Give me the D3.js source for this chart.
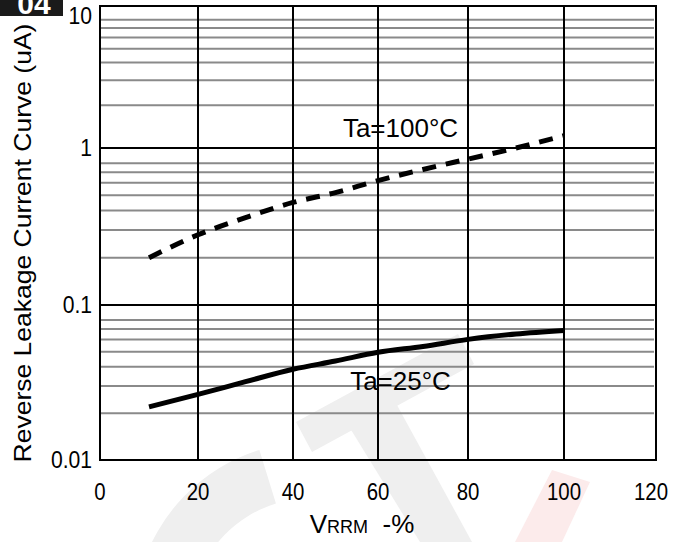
<!DOCTYPE html>
<html>
<head>
<meta charset="utf-8">
<script src="https://cdn.jsdelivr.net/npm/d3@7"></script>
<style>
body{margin:0;background:#fff}
svg{display:block}
text{font-family:"Liberation Sans",Arial,sans-serif;fill:#000}
</style>
</head>
<body>
<svg id="chart"></svg>
<script>
// chart values
var xTicks = [0, 20, 40, 60, 80, 100, 120];
var yTicks = [0.01, 0.1, 1, 10];
var yTickLabels = ["0.01", "0.1", "1", "10"];
var minorSteps = [2, 3, 4, 5, 6, 7, 8];
var vrrm = [10, 20, 30, 40, 50, 60, 70, 80, 90, 100];
var ir100 = [0.20, 0.28, 0.36, 0.45, 0.52, 0.62, 0.73, 0.85, 1.0, 1.22];
var ir25 = [0.022, 0.0265, 0.032, 0.0385, 0.0435, 0.0495, 0.054, 0.060, 0.065, 0.0685];
var curveLabels = [{text: "Ta=100°C", x: 65, y: 1.19}, {text: "Ta=25°C", x: 65, y: 0.0283}];

function init(){
    var width = 685;
    var height = 542;
    var svg = d3.select("#chart").attr("width", width).attr("height", height);

    // scales (the source grid is hand drawn, so piecewise)
    var x = d3.scaleLinear().domain(xTicks).range([100, 198, 293, 378, 468, 564, 656]);
    var y = d3.scaleLog().domain(yTicks).range([460, 305, 148, 6]);

    // watermark
    var wm = svg.append("g");
    wm.append("path")
        .attr("transform", "translate(312,620)")
        .attr("d", d3.arc().innerRadius(122).outerRadius(178).startAngle(-1.3).endAngle(-0.3)())
        .attr("fill", "#efefef");
    wm.append("path")
        .attr("d", "M296,422 L458,334 L474,364 L312,452 Z M345,420 L392,396 L472,542 L420,542 Z")
        .attr("fill", "#efefef");
    wm.append("path")
        .attr("d", "M515,542 L552,470 L590,482 L562,542 Z")
        .attr("fill", "#fcebeb");

    // minor grid
    var minors = [];
    for (var k = 0; k < 3; k++) {
        for (var m = 0; m < minorSteps.length; m++) {
            minors.push(minorSteps[m] * yTicks[k]);
        }
    }
    svg.append("g")
        .selectAll("line")
        .data(minors)
        .enter()
        .append("line")
        .attr("x1", x(0)).attr("x2", x(120) - 2)
        .attr("y1", function(d){ return y(d); })
        .attr("y2", function(d){ return y(d); })
        .attr("stroke", "#8a8a8a")
        .attr("stroke-width", 2);

    // major grid
    svg.append("g")
        .selectAll("line")
        .data(yTicks.slice(1, 3))
        .enter()
        .append("line")
        .attr("x1", x(0)).attr("x2", x(120))
        .attr("y1", function(d){ return y(d); })
        .attr("y2", function(d){ return y(d); })
        .attr("stroke", "#000")
        .attr("stroke-width", 2);
    svg.append("g")
        .selectAll("line")
        .data(xTicks.slice(1, 6))
        .enter()
        .append("line")
        .attr("x1", function(d){ return x(d); })
        .attr("x2", function(d){ return x(d); })
        .attr("y1", y(10)).attr("y2", y(0.01))
        .attr("stroke", "#000")
        .attr("stroke-width", 2);

    // frame
    svg.append("rect")
        .attr("x", x(0)).attr("y", y(10))
        .attr("width", x(120) - x(0))
        .attr("height", y(0.01) - y(10))
        .attr("fill", "none")
        .attr("stroke", "#000")
        .attr("stroke-width", 2);

    // curves
    var line = d3.line()
        .x(function(d){ return x(d[0]); })
        .y(function(d){ return y(d[1]); })
        .curve(d3.curveMonotoneX);
    svg.append("path")
        .attr("d", line(d3.zip(vrrm, ir100)))
        .attr("fill", "none")
        .attr("stroke", "#000")
        .attr("stroke-width", 5)
        .attr("stroke-dasharray", "14,10");
    svg.append("path")
        .attr("d", line(d3.zip(vrrm, ir25)))
        .attr("fill", "none")
        .attr("stroke", "#000")
        .attr("stroke-width", 5);

    svg.append("g")
        .selectAll("text")
        .data(curveLabels)
        .enter()
        .append("text")
        .attr("x", function(d){ return x(d.x); })
        .attr("y", function(d){ return y(d.y); })
        .attr("text-anchor", "middle")
        .style("font-size", "26px")
        .text(function(d){ return d.text; });

    // tick labels
    svg.append("g")
        .selectAll("text")
        .data(xTicks)
        .enter()
        .append("text")
        .attr("transform", function(d){ return "translate(" + (x(d) - (d == 120 ? 5 : 0)) + ",500) scale(0.85,1)"; })
        .attr("text-anchor", "middle")
        .style("font-size", "24px")
        .text(function(d){ return d; });
    svg.append("g")
        .selectAll("text")
        .data(yTicks)
        .enter()
        .append("text")
        .attr("transform", function(d){ return "translate(92," + (Math.max(y(d), 16) + 8) + ") scale(0.88,1)"; })
        .attr("text-anchor", "end")
        .style("font-size", "24px")
        .text(function(d, i){ return yTickLabels[i]; });

    // axis titles
    var xt = svg.append("text")
        .attr("x", 362)
        .attr("y", 533)
        .attr("text-anchor", "middle")
        .style("font-size", "26px")
        .style("white-space", "pre");
    xt.append("tspan").text("V");
    xt.append("tspan").style("font-size", "18px").text("RRM");
    xt.append("tspan").text("  -%");

    svg.append("text")
        .attr("transform", "translate(31,243) rotate(-90) scale(1,0.88)")
        .attr("text-anchor", "middle")
        .style("font-size", "26.5px")
        .text("Reverse Leakage Current Curve (uA)");

    // figure badge (its number is cut by the top edge, as in the source)
    svg.append("rect")
        .attr("x", 0).attr("y", 0)
        .attr("width", 63).attr("height", 16)
        .attr("fill", "#1a1a1a");
    svg.append("text")
        .attr("x", 34).attr("y", 14)
        .attr("text-anchor", "middle")
        .style("font-size", "30px")
        .style("font-weight", "bold")
        .style("fill", "#fff")
        .text("04");
}
init();
</script>
</body>
</html>
